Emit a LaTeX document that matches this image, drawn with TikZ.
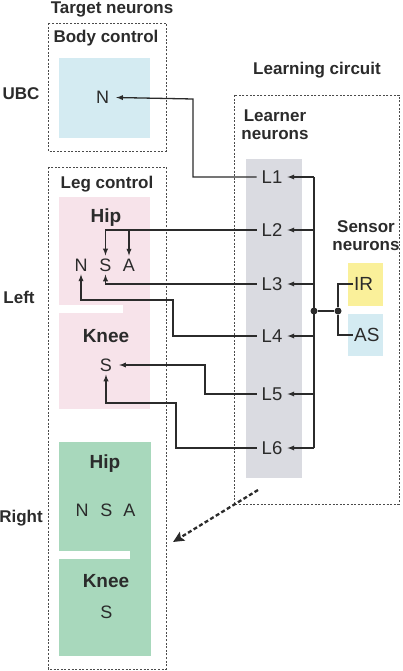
\documentclass[tikz,border=0pt]{standalone}
\usepackage{fontspec}
\setmainfont{Liberation Sans}
\usepackage{tikz}
\usetikzlibrary{arrows, arrows.meta, positioning, shapes}

\definecolor{ubcblue}{HTML}{D4EBF2}
\definecolor{legpink}{HTML}{F7E3EA}
\definecolor{rightgreen}{HTML}{A8D8BC}
\definecolor{learngray}{HTML}{DADBE1}
\definecolor{iryellow}{HTML}{FAF09A}
\definecolor{ink}{HTML}{2B2B2B}

\tikzset{
  title/.style = {draw=none, anchor=base, align=center, text=ink, inner sep=0pt,
                  font=\fontsize{17}{18}\selectfont\bfseries},
  part/.style  = {title, font=\fontsize{19}{20}\selectfont\bfseries},
  unit/.style  = {draw=none, text=ink, inner xsep=7pt, inner ysep=3pt,
                  font=\fontsize{18}{20}\selectfont},
  learner/.style = {unit, inner xsep=5pt, font=\fontsize{18.5}{20}\selectfont},
  sensor/.style  = {unit, anchor=west, inner sep=1pt, font=\fontsize{19}{22}\selectfont},
  group/.style = {draw=ink!85, line width=0.9pt, dash pattern=on 2pt off 1.6pt},
  wire/.style  = {draw=ink, line width=1.3pt, ->, >=latex},
  bus/.style   = {draw=ink, line width=1.3pt},
  dot/.style   = {circle, fill=ink, inner sep=0pt, minimum size=7pt},
}

\begin{document}
\begin{tikzpicture}[x=1pt, y=-1pt]
\useasboundingbox (0,0) rectangle (402,671);

\fill [ubcblue   ] (59,58)   rectangle (150,138);
\fill [legpink   ] (59,197)  rectangle (150,409);
\fill [white     ] (59,305)  rectangle (123,313);
\fill [rightgreen] (59,442)  rectangle (151,656);
\fill [white     ] (59,551)  rectangle (130,559);
\fill [learngray ] (246,159) rectangle (302,478);
\fill [iryellow  ] (348,263) rectangle (383,306);
\fill [ubcblue   ] (348,314) rectangle (383,356);

\draw [group] (48,23)  rectangle (166,151);
\draw [group] (48,167) rectangle (166,669);
\draw [group] (234,95) rectangle (399,504);

\node [title] at (112,14)  (target)  {Target neurons};
\node [title] at (106,43)  (body)    {Body control};
\node [title] at (21,100)  (ubc)     {UBC};
\node [title] at (107,189) (leg)     {Leg control};
\node [title] at (19,303)  (left)    {Left};
\node [title] at (21,522)  (right)   {Right};
\node [title] at (317,75)  (circuit) {Learning circuit};
\node [title, text width=80pt] at (275,122) (learner) {Learner\\neurons};
\node [title, text width=80pt] at (366,232) (sensor)  {Sensor\\neurons};

\node [part] at (106,222) (hhip)  {Hip};
\node [part] at (106,342) (hknee) {Knee};
\node [part] at (105,468) (rhip)  {Hip};
\node [part] at (106,587) (rknee) {Knee};

\node [unit] at (102.5,97.5) (bn)  {N};
\node [unit] at (81,265)     (hn)  {N};
\node [unit] at (105.5,265)  (hs)  {S};
\node [unit] at (129,265)    (ha)  {A};
\node [unit] at (106,365)    (ks)  {S};
\node [unit] at (82,510)     (rn)  {N};
\node [unit] at (106.5,510)  (rs)  {S};
\node [unit] at (129.5,510)  (ra)  {A};
\node [unit] at (106.5,612)  (rks) {S};

\node [learner] at (272,177) (l1) {L1};
\node [learner] at (272,230) (l2) {L2};
\node [learner] at (272,284) (l3) {L3};
\node [learner] at (272,336) (l4) {L4};
\node [learner] at (272,394) (l5) {L5};
\node [learner] at (272,448) (l6) {L6};

\node [sensor] at (353,284) (ir) {IR};
\node [sensor] at (353,335) (as) {AS};

\node [dot] at (314,311) (j1) {};
\node [dot] at (338,311) (j2) {};

\coordinate (1) at (193,99);
\coordinate (2) at (173,300);
\coordinate (3) at (205,365);
\coordinate (4) at (176,403);
\coordinate (5) at (258,490);
\coordinate (6) at (173,542);

\path [bus] (l1.east -| j1) -- (l6.east -| j1);
\path [wire] (l1.east -| j1) -- (l1.east);
\path [wire] (l2.east -| j1) -- (l2.east);
\path [wire] (l3.east -| j1) -- (l3.east);
\path [wire] (l4.east -| j1) -- (l4.east);
\path [wire] (l5.east -| j1) -- (l5.east);
\path [wire] (l6.east -| j1) -- (l6.east);
\path [bus] (j1) -- (j2);
\path [bus] (ir.west) -| (j2) |- (as.west);

\path [wire] (l1.west) -| (1) -- (bn.east);
\path [wire] (l2.west) -| (hs.north);
\path [wire] (l2.west -| ha.north) -- (ha.north);
\path [wire] (l3.west) -| (hs.south);
\path [wire] (l4.west) -| (2) -| (hn.south);
\path [wire] (l5.west) -| (3) -- (ks.east);
\path [wire] (l6.west) -| (4) -| (ks.south);

\path [draw=ink, line width=2.3pt, dash pattern=on 4pt off 2.5pt,
       -{Stealth[length=11pt, width=10pt, inset=2pt]}] (5) -- (6);

\end{tikzpicture}
\end{document}
